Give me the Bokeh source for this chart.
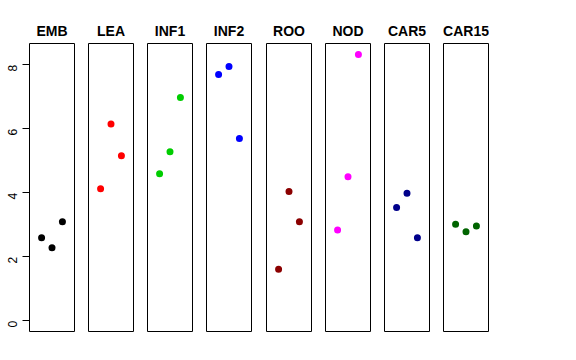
from bokeh.plotting import figure
from bokeh.layouts import row
from bokeh.models import Range1d, FixedTicker
from bokeh.embed import file_html
from bokeh.resources import INLINE
import math

# Data
groups = ["EMB", "LEA", "INF1", "INF2", "ROO", "NOD", "CAR5", "CAR15"]
x_pos = [1, 2, 3]
values = {
    "EMB":   [2.60, 2.28, 3.10],
    "LEA":   [4.13, 6.15, 5.16],
    "INF1":  [4.60, 5.28, 6.98],
    "INF2":  [7.70, 7.95, 5.70],
    "ROO":   [1.61, 4.04, 3.10],
    "NOD":   [2.84, 4.50, 8.32],
    "CAR5":  [3.54, 3.99, 2.60],
    "CAR15": [3.02, 2.78, 2.96],
}
colors = ["#000000", "#FF0000", "#00CD00", "#0000FF",
          "#8B0000", "#FF00FF", "#00008B", "#006400"]
y_ticks = [0, 2, 4, 6, 8]

FONT = "Liberation Sans"
lefts = [29, 88, 147, 206, 266, 325, 384, 443]
FRAME_W = 45
FRAME_H = 288
TOP = 43
BOTTOM = 10

figs = []
start = 0
for i, g in enumerate(groups):
    bl = lefts[i] - start
    w = bl + FRAME_W + 1
    start += w
    p = figure(width=w, height=TOP + FRAME_H + BOTTOM,
               x_range=Range1d(-0.16, 4.16), y_range=Range1d(-1/3, 26/3),
               output_backend="svg", toolbar_location=None,
               min_border_left=bl, min_border_right=1,
               min_border_top=TOP, min_border_bottom=BOTTOM,
               x_axis_location=None, y_axis_location=("left" if i == 0 else None))
    p.grid.visible = False
    p.outline_line_color = "black"
    p.outline_line_width = 1
    p.outline_line_alpha = 1
    p.background_fill_color = "white"
    p.border_fill_color = "white"
    p.title.text = g
    p.title.align = "center"
    p.title.text_font = FONT
    p.title.text_font_style = "bold"
    p.title.text_font_size = "14px"
    p.title.text_color = "black"
    if i == 0:
        ax = p.yaxis[0]
        ax.ticker = FixedTicker(ticks=y_ticks)
        ax.axis_line_color = None
        ax.major_tick_out = 7
        ax.major_tick_in = 0
        ax.minor_tick_line_color = None
        ax.major_tick_line_color = "black"
        ax.major_label_orientation = math.pi / 2
        ax.major_label_standoff = 10
        ax.major_label_text_font = FONT
        ax.major_label_text_font_size = "12px"
        ax.major_label_text_color = "black"
    p.scatter(x_pos, values[g], size=7, color=colors[i], line_color=None)
    figs.append(p)

layout = row(*figs, spacing=0)
open("out.html", "w").write(file_html(layout, INLINE))
